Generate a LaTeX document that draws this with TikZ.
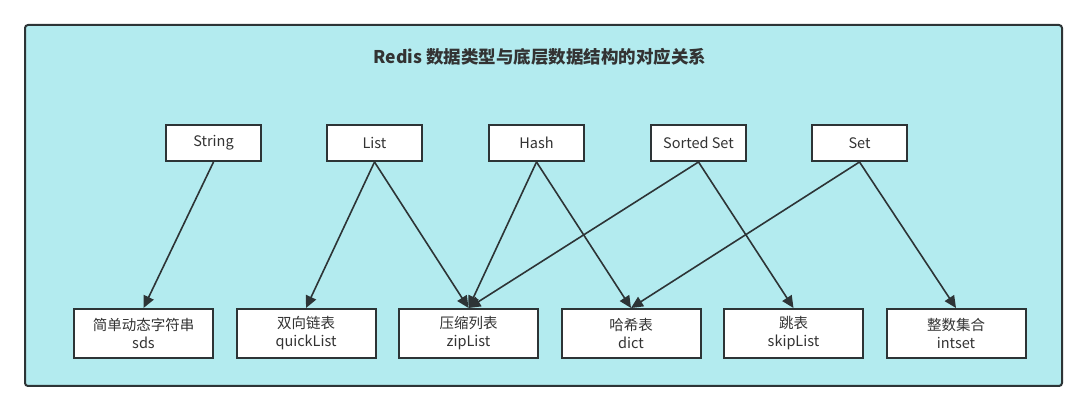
\documentclass[tikz,border=0pt]{standalone}
\usepackage{fontspec}
\setmainfont{Noto Sans CJK SC}
\usetikzlibrary{arrows.meta}
\definecolor{bgc}{RGB}{179,235,239}
\definecolor{ink}{RGB}{51,51,51}
\definecolor{edge}{RGB}{45,52,54}
\begin{document}
\begin{tikzpicture}[x=1pt,y=-1pt,
  typebox/.style={draw=edge,line width=2pt,fill=white,minimum width=95pt,minimum height=36pt,inner sep=0pt,text=ink,font=\fontsize{14.5}{18}\selectfont},
  implbox/.style={draw=edge,line width=2pt,fill=white,minimum width=139pt,minimum height=49pt,inner sep=0pt,text=ink,align=center,font=\fontsize{14.5}{18}\selectfont},
  link/.style={draw=edge,line width=1.6pt,-{Triangle[length=12pt,width=11pt]}}]
\useasboundingbox (0,0) rectangle (1088,411);
\node[draw=edge,line width=2pt,fill=bgc,rounded corners=3pt,minimum width=1037pt,minimum height=361pt,inner sep=0pt] (frame) at (543.5,205.5) {};
\node[text=ink,font=\bfseries\fontsize{17.5}{20}\selectfont] (title) at (540,56.5) {Redis 数据类型与底层数据结构的对应关系};
\node[typebox] (string) at (213.5,143) {String};
\node[typebox] (list) at (374.5,143) {List};
\node[typebox] (hash) at (536.5,143) {Hash};
\node[typebox] (zset) at (698.5,143) {Sorted Set};
\node[typebox] (set) at (859.5,143) {Set};
\node[implbox] (sds) at (143.5,333.5) {简单动态字符串\\sds};
\node[implbox] (quick) at (306,333.5) {双向链表\\quickList};
\node[implbox] (zip) at (468.5,333.5) {压缩列表\\zipList};
\node[implbox] (dict) at (631,333.5) {哈希表\\dict};
\node[implbox] (skip) at (793.5,333.5) {跳表\\skipList};
\node[implbox] (intset) at (956,333.5) {整数集合\\intset};
\draw[link] (string.south) -- (sds.north);
\draw[link] (list.south) -- (quick.north);
\draw[link] (list.south) -- (zip.north);
\draw[link] (hash.south) -- (zip.north);
\draw[link] (hash.south) -- (dict.north);
\draw[link] (zset.south) -- (zip.north);
\draw[link] (zset.south) -- (skip.north);
\draw[link] (set.south) -- (dict.north);
\draw[link] (set.south) -- (intset.north);
\end{tikzpicture}
\end{document}
